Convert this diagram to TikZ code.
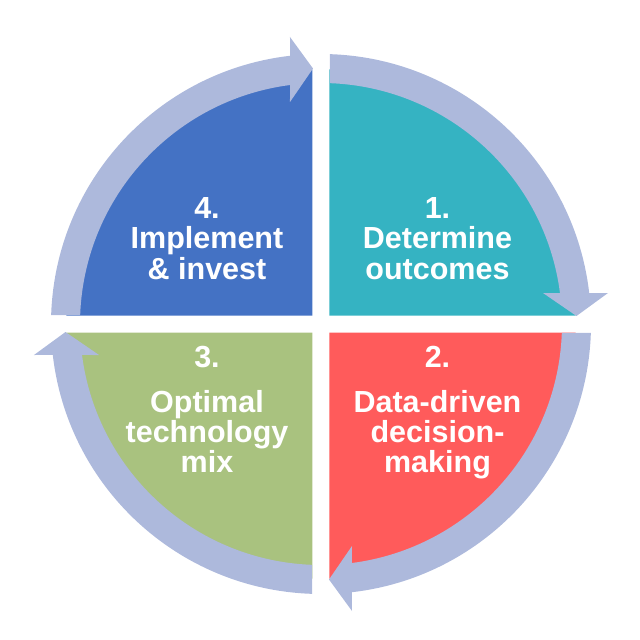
\documentclass[tikz,border=0pt]{standalone}
\usepackage{fontspec}
\setmainfont{Liberation Sans}
\definecolor{qteal}{HTML}{35B3C2}
\definecolor{qred}{HTML}{FF5B5B}
\definecolor{qgreen}{HTML}{A9C27F}
\definecolor{qblue}{HTML}{4472C4}
\definecolor{bandc}{HTML}{ADB9DC}
\begin{document}
\begin{tikzpicture}[x=1pt,y=1pt,
  lbl/.style={text=white,font=\fontsize{30.5}{30}\selectfont\bfseries,anchor=base,inner sep=0pt}]
\useasboundingbox (-321,-316) rectangle (319,324);
% quadrants
\fill[qblue]  (-8.5,8.5)  -- (-8.5,254.5) arc[start angle=90,end angle=180,radius=246] -- cycle;
\fill[qteal]  (8.5,8.5)   -- (254.5,8.5) arc[start angle=0,end angle=90,radius=246] -- cycle;
\fill[qred]   (8.5,-8.5)  -- (8.5,-254.5) arc[start angle=-90,end angle=0,radius=246] -- cycle;
\fill[qgreen] (-8.5,-8.5) -- (-254.5,-8.5) arc[start angle=180,end angle=270,radius=246] -- cycle;
% ring arrows
\foreach \k in {0,1,2,3}{
  \begin{scope}[rotate=-90*\k]
    \fill[bandc] (178.09:270) arc[start angle=178.09,end angle=96.59,radius=270]
      -- (-31,287) -- (-8,255.5) -- (-31,222)
      -- (97.39:241) arc[start angle=97.39,end angle=177.86,radius=241] -- cycle;
  \end{scope}
}
% texts
\node[lbl] (t4a) at (-114,106) {4.};
\node[lbl] (t4b) at (-114,75.5) {Implement};
\node[lbl] (t4c) at (-114,45) {\& invest};
\node[lbl] (t1a) at (116.5,106) {1.};
\node[lbl] (t1b) at (116.5,75.5) {Determine};
\node[lbl] (t1c) at (116.5,45) {outcomes};
\node[lbl] (t2a) at (116.5,-43) {2.};
\node[lbl] (t2b) at (116.5,-88) {Data-driven};
\node[lbl] (t2c) at (116.5,-118) {decision-};
\node[lbl] (t2d) at (116.5,-148) {making};
\node[lbl] (t3a) at (-114,-43) {3.};
\node[lbl] (t3b) at (-114,-88) {Optimal};
\node[lbl] (t3c) at (-114,-118) {technology};
\node[lbl] (t3d) at (-114,-148) {mix};
\end{tikzpicture}
\end{document}
